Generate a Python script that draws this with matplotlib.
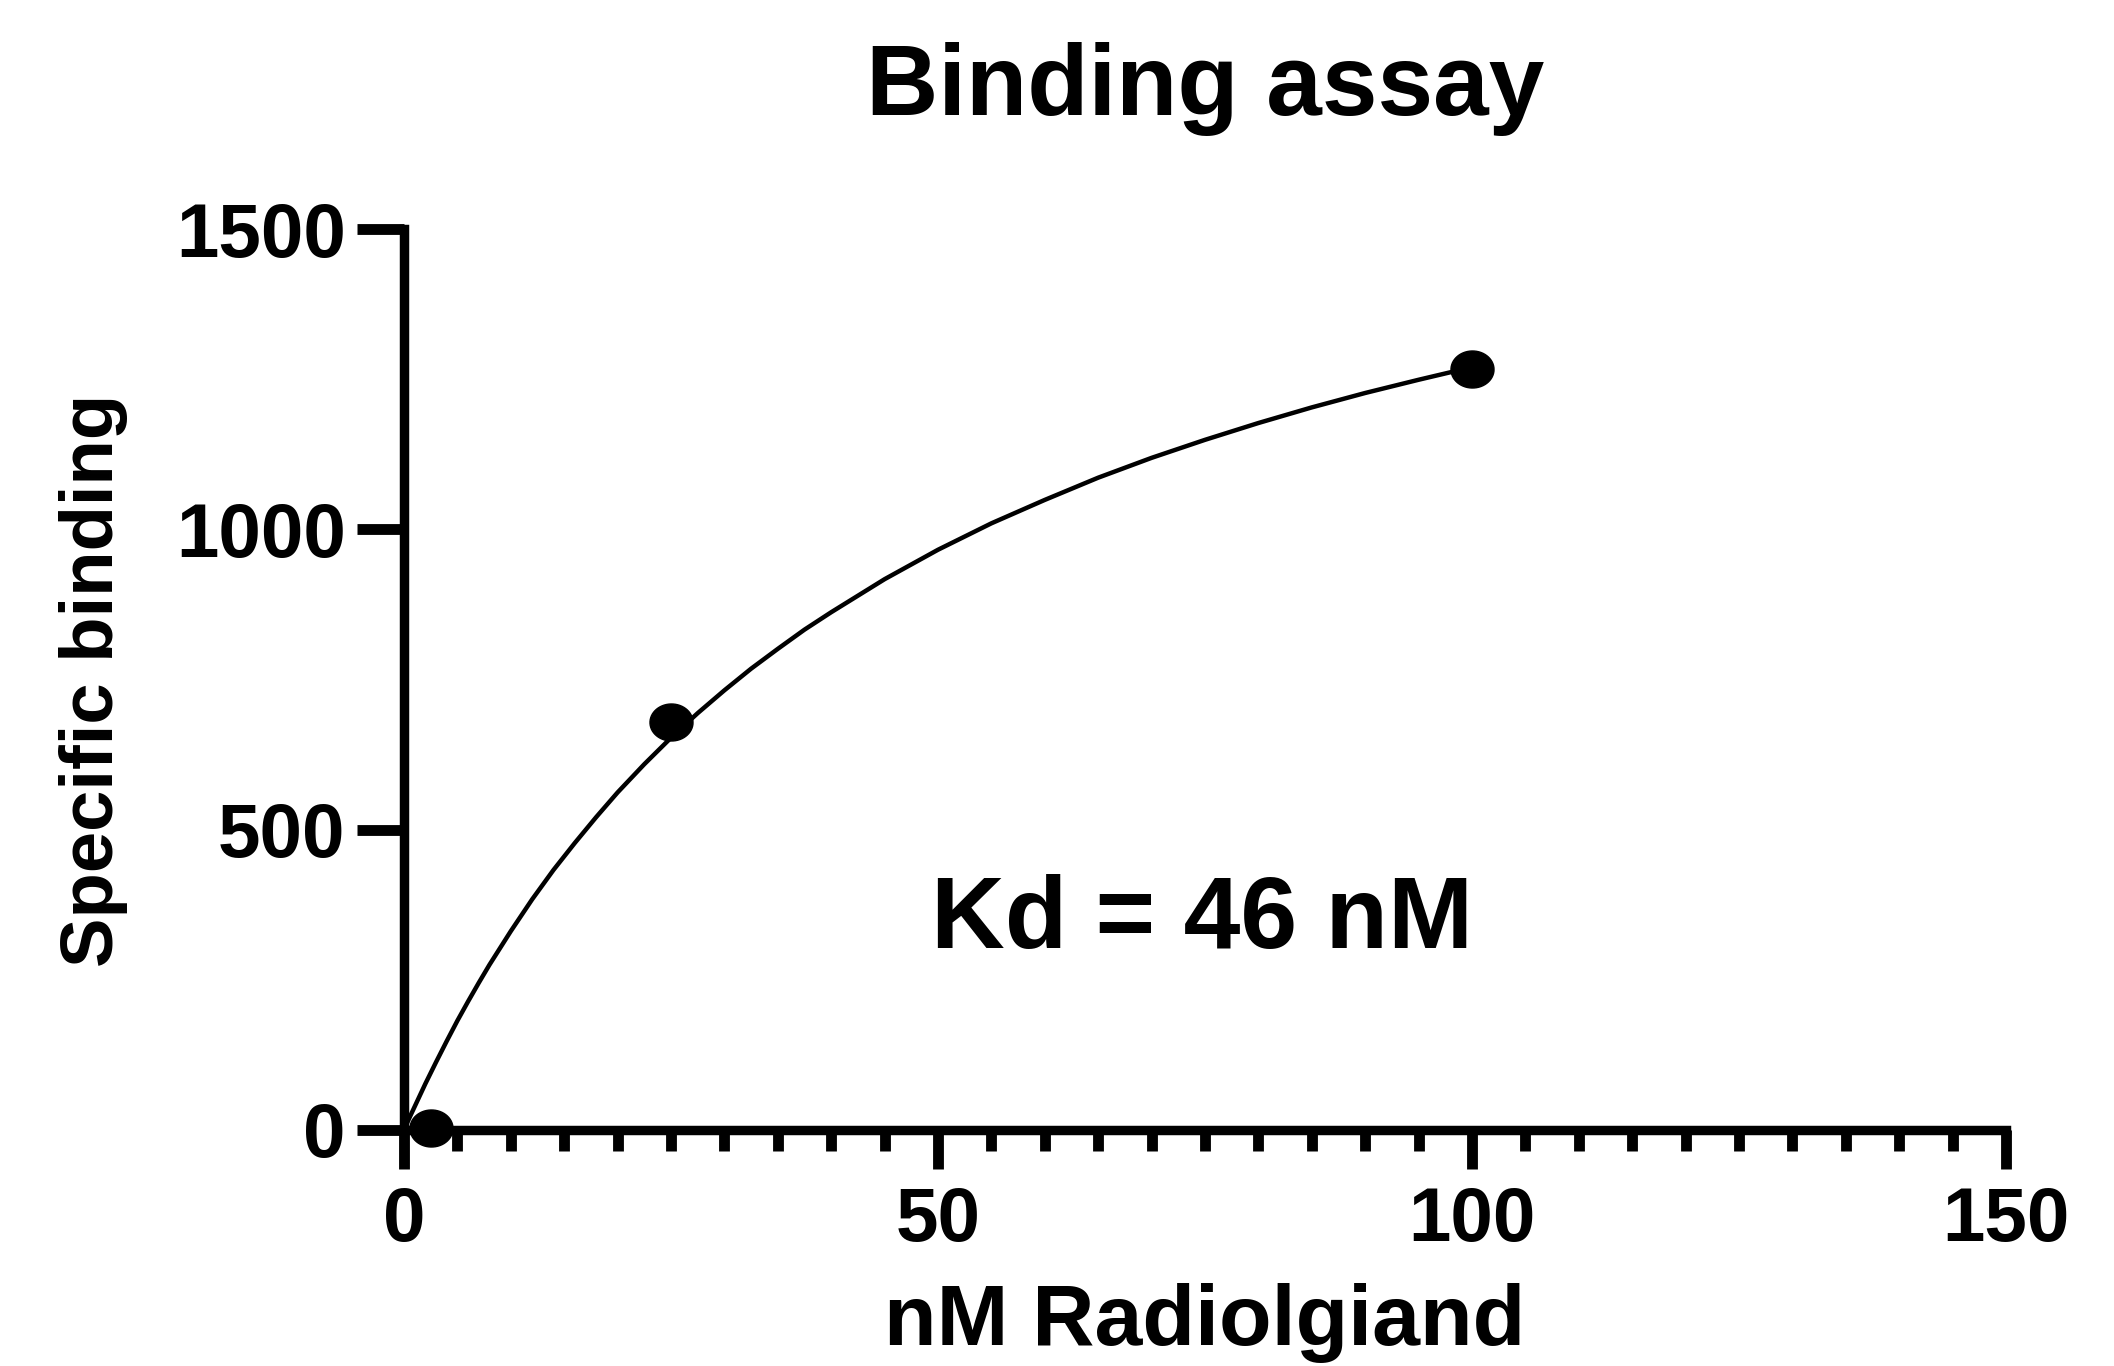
import numpy as np
import matplotlib
matplotlib.use("Agg")
import matplotlib.pyplot as plt
from matplotlib.path import Path
from matplotlib.ticker import MultipleLocator

# Data points
conc = [2.5, 25, 100]
binding = [3, 679, 1267]

# Fitted curve
curve_x = [0, 0.5, 1, 1.5, 2, 3, 4, 5, 6, 7, 8, 10, 12, 14, 16, 18, 20, 22.5, 25,
           27.5, 30, 32.5, 35, 37.5, 40, 45, 50, 55, 60, 65, 70, 75, 80, 85, 90, 95, 100]
curve_y = [0, 20, 39, 58, 77, 113, 148, 182, 214, 245, 275, 331, 384, 433, 478, 521, 562, 609, 653,
           694, 732, 768, 801, 833, 862, 917, 966, 1010, 1049, 1086, 1119, 1149, 1177, 1203, 1227, 1249, 1270]

x_ticks = [0, 50, 100, 150]
y_ticks = [0, 500, 1000, 1500]

title = "Binding assay"
xlabel = "nM Radiolgiand"
ylabel = "Specific binding"
annot = "Kd = 46 nM"

plt.rcParams['font.family'] = ['Liberation Sans', 'DejaVu Sans']
plt.rcParams['font.weight'] = 'bold'

fig = plt.figure(figsize=(21.14, 13.66), dpi=100)
ax = fig.add_axes([404/2114, 1-1130/1366, (2006-404)/2114, (1130-229)/1366])

ax.plot(curve_x, curve_y, color='black', lw=3.2, clip_on=False, zorder=3,
        solid_joinstyle='round', solid_capstyle='round')

t = np.linspace(0, 2*np.pi, 60)
ell = Path(np.column_stack([np.cos(t), 0.86*np.sin(t)]))
ax.plot(conc, binding, linestyle='none', marker=ell, markersize=31,
        color='black', clip_on=False, zorder=4)

ax.set_xlim(0, 150)
ax.set_ylim(0, 1500)
ax.set_xticks(x_ticks)
ax.set_yticks(y_ticks)
ax.xaxis.set_minor_locator(MultipleLocator(5))

for s in ['top', 'right']:
    ax.spines[s].set_visible(False)
for s in ['left', 'bottom']:
    ax.spines[s].set_linewidth(6.8)
    ax.spines[s].set_capstyle('projecting')

ax.tick_params(axis='x', which='major', length=28, width=7.8, pad=12,
               labelsize=55, direction='out')
ax.tick_params(axis='x', which='minor', length=15, width=7.8, direction='out')
ax.tick_params(axis='y', which='major', length=34, width=7.8, pad=8,
               labelsize=55, direction='out')
for lbl in ax.get_xticklabels() + ax.get_yticklabels():
    lbl.set_fontweight('bold')

fig.text(1205/2114, 1-115/1366, title, ha='center', va='baseline',
         fontsize=72, fontweight='bold')
fig.text(1205/2114, 1-1345/1366, xlabel, ha='center', va='baseline',
         fontsize=62, fontweight='bold')
fig.text(94/2114, 1-680/1366, ylabel, ha='center', va='center', rotation=90,
         fontsize=53.5, fontweight='bold')
ax.text(49.3, 303, annot, ha='left', va='baseline', fontsize=73.5, fontweight='bold')

fig.savefig('out.png', dpi=100, facecolor='white')
